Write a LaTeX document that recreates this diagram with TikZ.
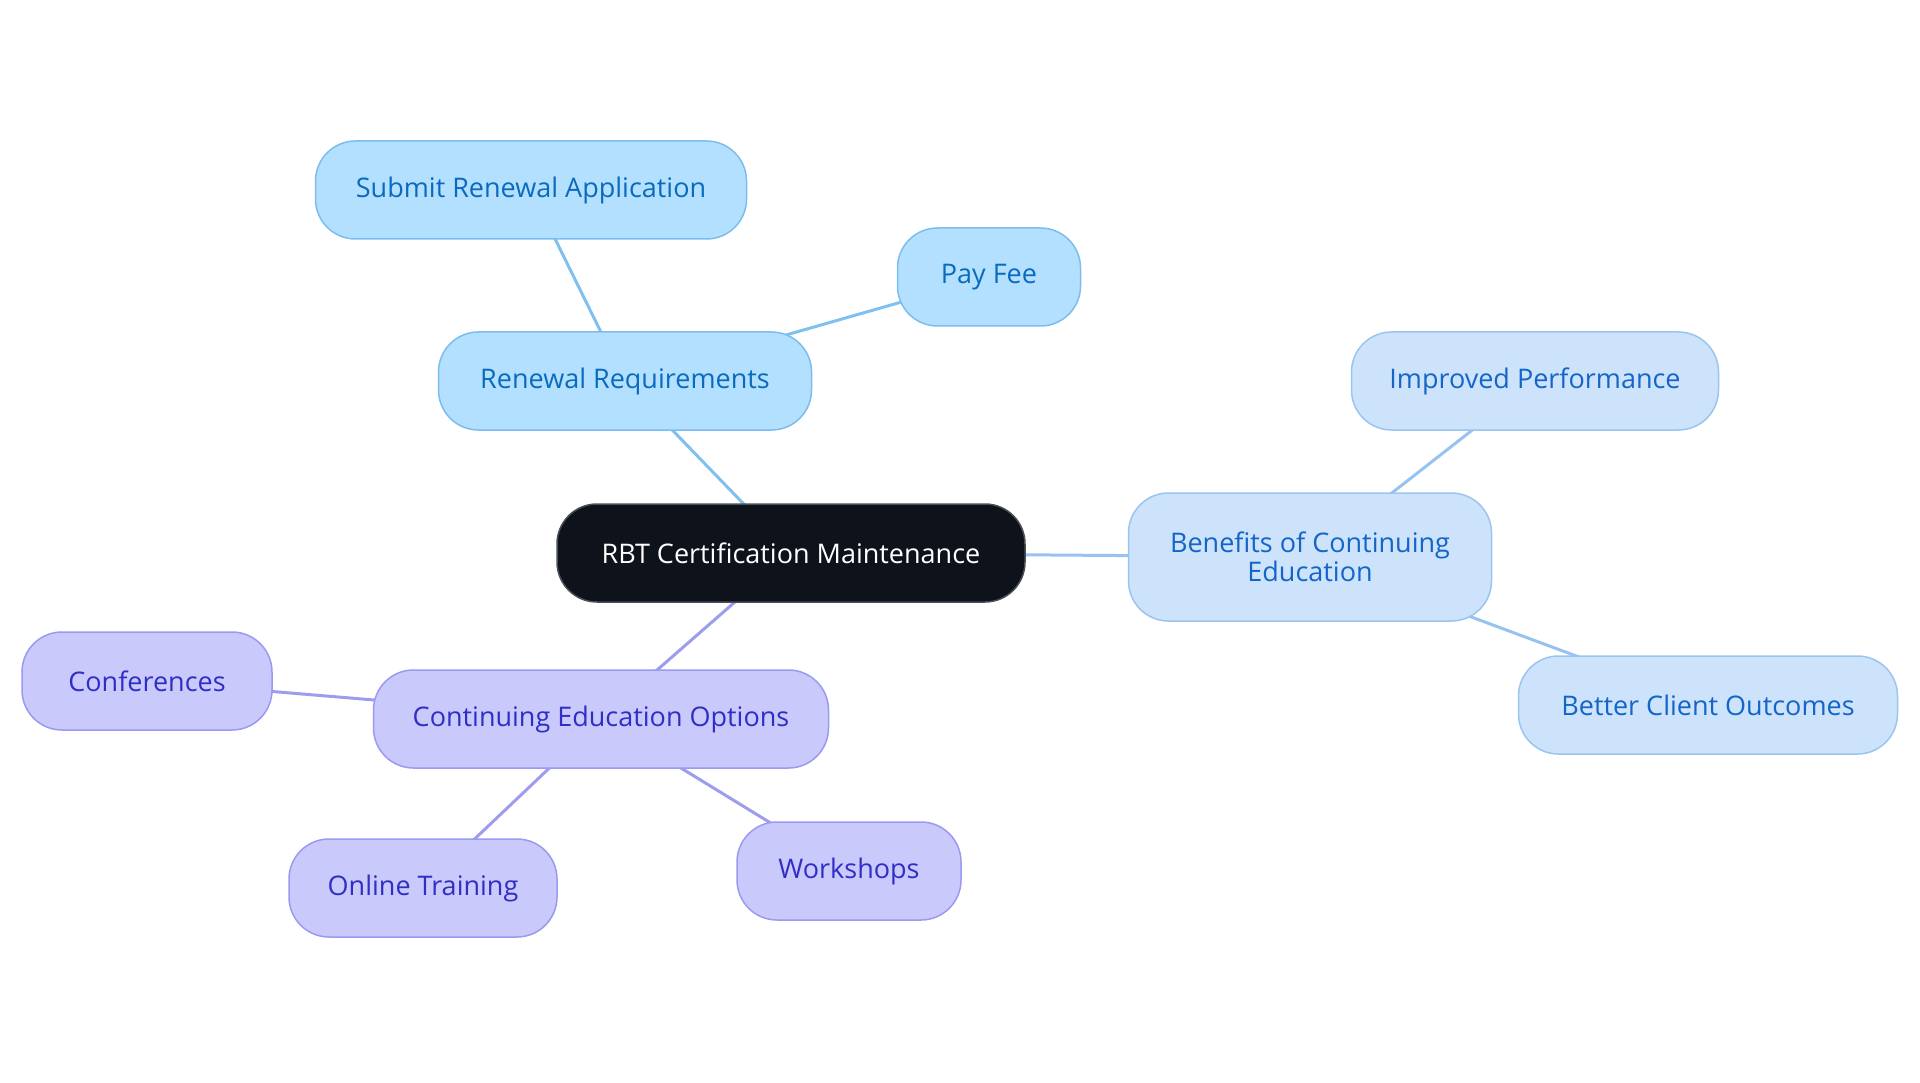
\documentclass[tikz,border=0pt]{standalone}
\usepackage{fontspec}
\setmainfont{Open Sans}
\usetikzlibrary{backgrounds}
\definecolor{darkfill}{HTML}{0D121B}
\definecolor{darkborder}{HTML}{4A4F57}
\definecolor{skyfill}{HTML}{B3E0FE}
\definecolor{skyborder}{HTML}{7CBDEE}
\definecolor{skytext}{HTML}{0A6BBE}
\definecolor{skyedge}{HTML}{80C0EE}
\definecolor{palefill}{HTML}{CCE3FB}
\definecolor{paleborder}{HTML}{9BC4F0}
\definecolor{paletext}{HTML}{1565C8}
\definecolor{paleedge}{HTML}{98C2EF}
\definecolor{lilacfill}{HTML}{C9C9FC}
\definecolor{lilacborder}{HTML}{9A9AF0}
\definecolor{lilactext}{HTML}{2F2FC6}
\definecolor{lilacedge}{HTML}{9D9DEE}
\tikzset{
  box/.style={rounded corners=40pt, line width=1.5pt, inner sep=0pt, align=center, font=\fontsize{27}{31}\selectfont, minimum height=98pt},
  rootbox/.style={box, fill=darkfill, draw=darkborder, text=white},
  skybox/.style={box, fill=skyfill, draw=skyborder, text=skytext},
  palebox/.style={box, fill=palefill, draw=paleborder, text=paletext},
  lilacbox/.style={box, fill=lilacfill, draw=lilacborder, text=lilactext},
  link/.style={line width=3pt}
}
\begin{document}
\begin{tikzpicture}[x=1pt,y=-1pt]
\useasboundingbox (0,0) rectangle (1920,1083);
\node[rootbox, minimum width=468pt] (root) at (791,553) {RBT Certification Maintenance};
\node[skybox, minimum width=373pt] (renew) at (625,381) {Renewal Requirements};
\node[skybox, minimum width=431pt] (submit) at (531,190) {Submit Renewal Application};
\node[skybox, minimum width=183pt] (fee) at (989,277) {Pay Fee};
\node[palebox, minimum width=363pt, minimum height=128pt] (benefits) at (1310,557) {Benefits of Continuing\\[-2pt]Education};
\node[palebox, minimum width=367pt] (perf) at (1535,381) {Improved Performance};
\node[palebox, minimum width=379pt] (outcomes) at (1708,705) {Better Client Outcomes};
\node[lilacbox, minimum width=455pt] (options) at (601,719) {Continuing Education Options};
\node[lilacbox, minimum width=250pt] (conf) at (147,681) {Conferences};
\node[lilacbox, minimum width=268pt] (online) at (423,888) {Online Training};
\node[lilacbox, minimum width=224pt] (work) at (849,871) {Workshops};
\begin{scope}[on background layer]
\draw[link, skyedge] (root.center) -- (renew.center);
\draw[link, skyedge] (renew.center) -- (submit.center);
\draw[link, skyedge] (renew.center) -- (fee.center);
\draw[link, paleedge] (root.center) -- (benefits.center);
\draw[link, paleedge] (benefits.center) -- (perf.center);
\draw[link, paleedge] (benefits.center) -- (outcomes.center);
\draw[link, lilacedge] (root.center) -- (options.center);
\draw[link, lilacedge] (options.center) -- (conf.center);
\draw[link, lilacedge] (options.center) -- (online.center);
\draw[link, lilacedge] (options.center) -- (work.center);
\end{scope}
\end{tikzpicture}
\end{document}
